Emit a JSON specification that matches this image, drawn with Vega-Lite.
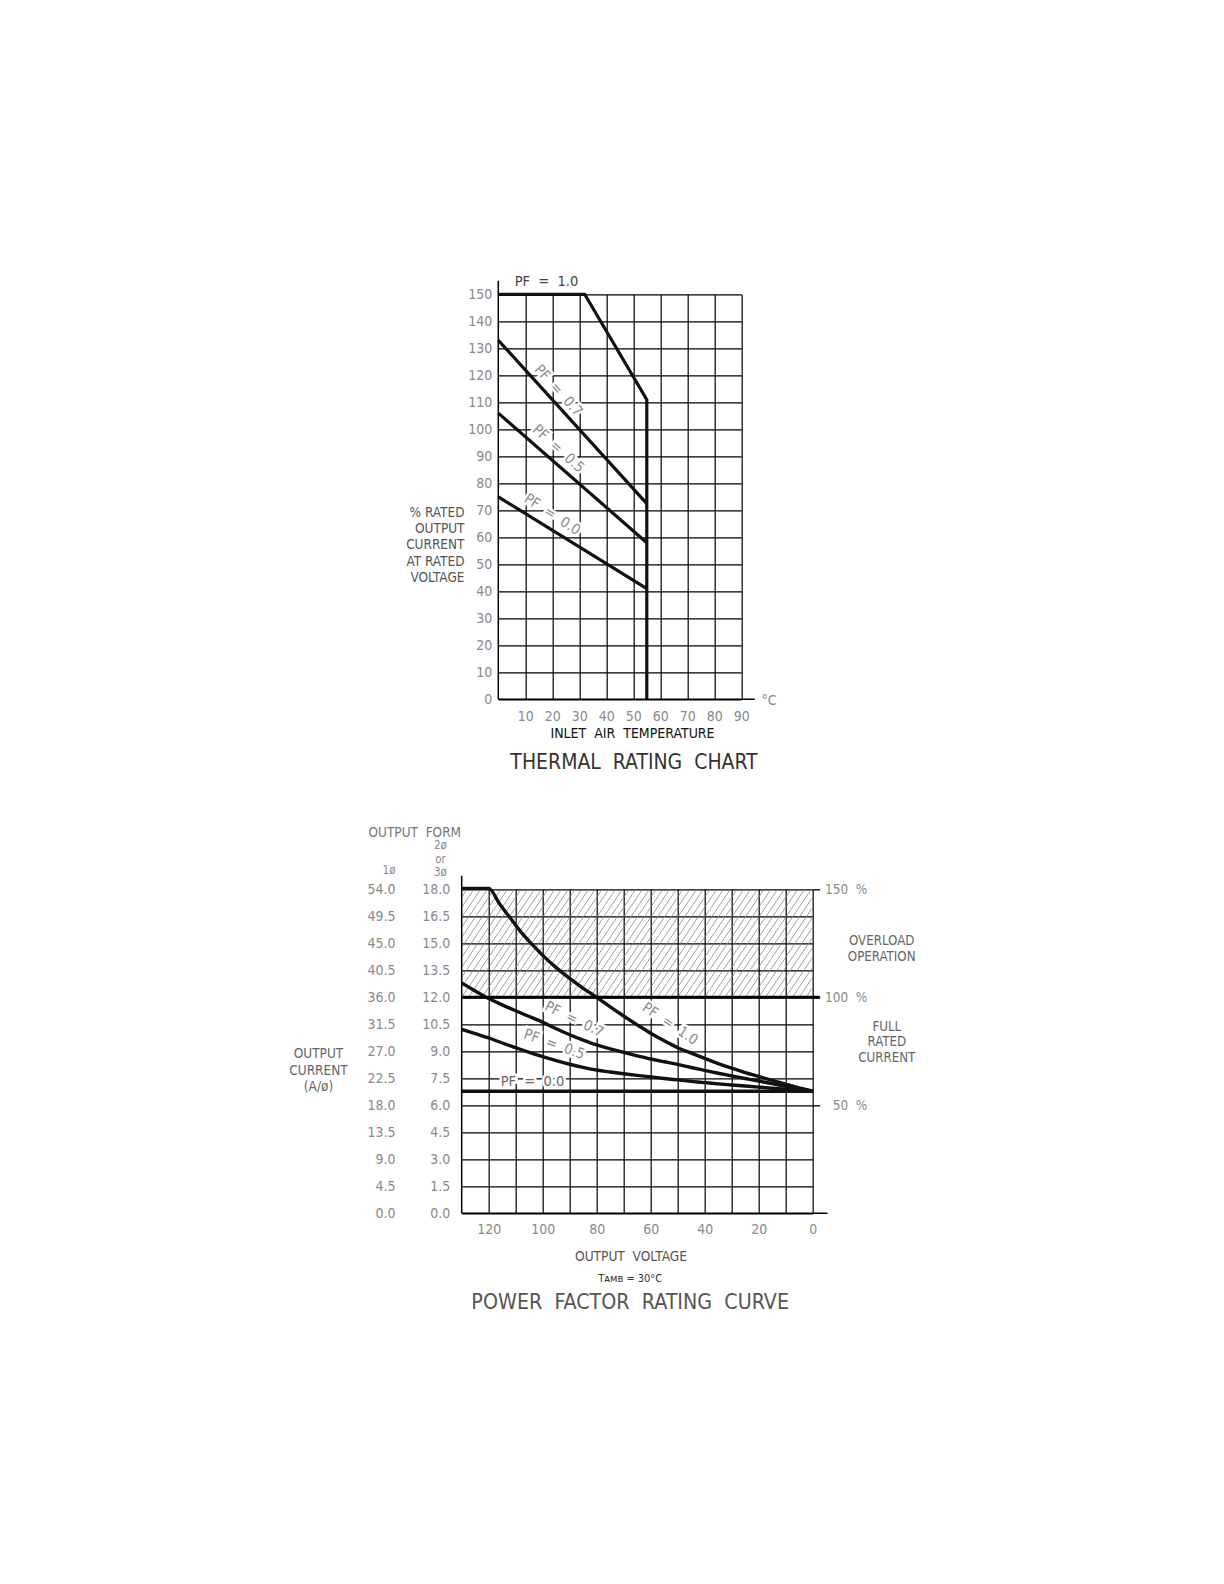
{
  "$schema": "https://vega.github.io/schema/vega-lite/v6.json",
  "padding": {"left": 288.7, "top": 273.3, "right": 5, "bottom": 5},
  "background": "white",
  "bounds": "flush",
  "spacing": 190,
  "config": {
    "view": {"stroke": null},
    "font": "Liberation Sans Narrow, DejaVu Sans Condensed, sans-serif",
    "axis": {
      "domain": false, "ticks": false, "labelFlush": false, "labelOverlap": false,
      "labelFontSize": 14, "labelColor": "#8a8a8a", "titleFontWeight": "normal",
      "titleFontSize": 14, "titleColor": "#555", "gridColor": "#000", "gridOpacity": 1, "gridWidth": 1.2
    },
    "title": {"fontWeight": "normal"}
  },
  "vconcat": [
    {
      "width": 280,
      "height": 405,
      "title": {"text": "THERMAL\u00a0 RATING\u00a0 CHART", "orient": "bottom", "anchor": "middle", "frame": "group", "fontSize": 21, "color": "#333", "offset": 11, "dx": 32.3},
      "resolve": {"axis": {"x": "independent", "y": "independent"}},
      "layer": [
        {
          "data": {"values": [{"lab": "PF\u00a0 =\u00a0 0.7", "t": 22.1, "p": 114.2}]},
          "encoding": {
            "x": {"field": "t", "type": "quantitative", "scale": {"domain": [0, 90], "range": [36.6, 279.6], "nice": false}, "axis": null},
            "y": {"field": "p", "type": "quantitative", "scale": {"domain": [0, 150], "nice": false}, "axis": null},
            "text": {"field": "lab"}
          },
          "layer": [
            {"mark": {"type": "text", "angle": 48, "fontSize": 14.5, "fill": "white", "stroke": "white", "strokeWidth": 5}},
            {"mark": {"type": "text", "angle": 48, "fontSize": 14.5, "fill": "#8a8a8a"}}
          ]
        },
        {
          "data": {"values": [{"lab": "PF\u00a0 =\u00a0 0.5", "t": 22.1, "p": 92.7}]},
          "encoding": {
            "x": {"field": "t", "type": "quantitative", "scale": {"domain": [0, 90], "range": [36.6, 279.6], "nice": false}, "axis": null},
            "y": {"field": "p", "type": "quantitative", "scale": {"domain": [0, 150], "nice": false}, "axis": null},
            "text": {"field": "lab"}
          },
          "layer": [
            {"mark": {"type": "text", "angle": 42, "fontSize": 14.5, "fill": "white", "stroke": "white", "strokeWidth": 5}},
            {"mark": {"type": "text", "angle": 42, "fontSize": 14.5, "fill": "#8a8a8a"}}
          ]
        },
        {
          "data": {"values": [{"lab": "PF\u00a0 =\u00a0 0.0", "t": 19.9, "p": 68.3}]},
          "encoding": {
            "x": {"field": "t", "type": "quantitative", "scale": {"domain": [0, 90], "range": [36.6, 279.6], "nice": false}, "axis": null},
            "y": {"field": "p", "type": "quantitative", "scale": {"domain": [0, 150], "nice": false}, "axis": null},
            "text": {"field": "lab"}
          },
          "layer": [
            {"mark": {"type": "text", "angle": 33, "fontSize": 14.5, "fill": "white", "stroke": "white", "strokeWidth": 5}},
            {"mark": {"type": "text", "angle": 33, "fontSize": 14.5, "fill": "#8a8a8a"}}
          ]
        },
        {
          "data": {"values": [{"lab": "PF\u00a0 =\u00a0 1.0", "t": 17.85, "p": 154.6}]},
          "mark": {"type": "text", "fontSize": 14.5, "fill": "#444"},
          "encoding": {
            "x": {"field": "t", "type": "quantitative", "scale": {"domain": [0, 90], "range": [36.6, 279.6], "nice": false}, "axis": null},
            "y": {"field": "p", "type": "quantitative", "scale": {"domain": [0, 150], "nice": false}, "axis": null},
            "text": {"field": "lab"}
          }
        },
        {
          "data": {"values": [
            {"pf": "1.0", "i": 0, "t": 0, "p": 150},
            {"pf": "1.0", "i": 1, "t": 32, "p": 150},
            {"pf": "1.0", "i": 2, "t": 55, "p": 111},
            {"pf": "1.0", "i": 3, "t": 55, "p": 0},
            {"pf": "0.7", "i": 0, "t": 0, "p": 133},
            {"pf": "0.7", "i": 1, "t": 55, "p": 72.5},
            {"pf": "0.5", "i": 0, "t": 0, "p": 106},
            {"pf": "0.5", "i": 1, "t": 55, "p": 58},
            {"pf": "0.0", "i": 0, "t": 0, "p": 75},
            {"pf": "0.0", "i": 1, "t": 55, "p": 41}
          ]},
          "mark": {"type": "line", "strokeWidth": 3.2, "color": "#111"},
          "encoding": {
            "x": {
              "field": "t", "type": "quantitative",
              "scale": {"domain": [0, 90], "range": [36.6, 279.6], "nice": false},
              "axis": {
                "values": [10, 20, 30, 40, 50, 60, 70, 80, 90], "grid": true, "labelPadding": 10,
                "title": "INLET\u00a0 AIR\u00a0 TEMPERATURE", "titleX": 170.3, "titleY": 34.4,
                "titleAlign": "center", "titleBaseline": "middle", "titleColor": "#111", "titleFontSize": 14
              }
            },
            "y": {
              "field": "p", "type": "quantitative",
              "scale": {"domain": [0, 150], "nice": false},
              "axis": {
                "values": [0, 10, 20, 30, 40, 50, 60, 70, 80, 90, 100, 110, 120, 130, 140, 150],
                "grid": true, "offset": -36.6, "labelPadding": 6.5,
                "title": ["% RATED", "OUTPUT", "CURRENT", "AT RATED", "VOLTAGE"],
                "titleAngle": 0, "titleAlign": "right", "titleBaseline": "top",
                "titleX": -34.3, "titleY": 210.9, "titleLineHeight": 16.3, "titleFontSize": 13.5, "titleColor": "#555"
              }
            },
            "detail": {"field": "pf"},
            "order": {"field": "i"}
          }
        },
        {
          "data": {"values": [{}]},
          "mark": {"type": "rule", "strokeWidth": 1.5, "color": "#000"},
          "encoding": {
            "x": {"datum": 0, "type": "quantitative", "scale": {"domain": [0, 90], "range": [36.6, 279.6], "nice": false}, "axis": null},
            "y": {"datum": 0, "type": "quantitative", "scale": {"domain": [0, 150], "nice": false}, "axis": null},
            "y2": {"datum": 155}
          }
        },
        {
          "data": {"values": [{}]},
          "mark": {"type": "rule", "strokeWidth": 1.5, "color": "#000"},
          "encoding": {
            "x": {"datum": 0, "type": "quantitative", "scale": {"domain": [0, 90], "range": [36.6, 279.6], "nice": false}, "axis": null},
            "x2": {"datum": 95},
            "y": {"datum": 0, "type": "quantitative", "scale": {"domain": [0, 150], "nice": false}, "axis": null}
          }
        },
        {
          "data": {"values": [{"u": "°C"}]},
          "mark": {"type": "text", "align": "left", "baseline": "middle", "dy": 2, "fontSize": 14, "fill": "#8a8a8a"},
          "encoding": {
            "x": {"datum": 97.5, "type": "quantitative", "scale": {"domain": [0, 90], "range": [36.6, 279.6], "nice": false}, "axis": null},
            "y": {"datum": 0, "type": "quantitative", "scale": {"domain": [0, 150], "nice": false}, "axis": null},
            "text": {"field": "u"}
          }
        }
      ]
    },
    {
      "width": 351,
      "height": 324,
      "title": {
        "text": "T\u1d00\u1d0d\u0299 = 30°C", "subtitle": "POWER\u00a0 FACTOR\u00a0 RATING\u00a0 CURVE",
        "orient": "bottom", "anchor": "middle", "frame": "group", "fontSize": 11, "color": "#333",
        "subtitleFontSize": 21.3, "subtitleColor": "#555", "subtitlePadding": 8, "offset": 9, "dx": -7
      },
      "resolve": {"axis": {"x": "independent", "y": "independent"}},
      "layer": [
        {
          "data": {"values": [
            {"b": 0, "t": -27}, {"b": 2.5, "t": -24.5}, {"b": 5, "t": -22}, {"b": 7.5, "t": -19.5},
            {"b": 10, "t": -17}, {"b": 12.5, "t": -14.5}, {"b": 15, "t": -12}, {"b": 17.5, "t": -9.5},
            {"b": 20, "t": -7}, {"b": 22.5, "t": -4.5}, {"b": 25, "t": -2}, {"b": 27.5, "t": 0.5},
            {"b": 30, "t": 3}, {"b": 32.5, "t": 5.5}, {"b": 35, "t": 8}, {"b": 37.5, "t": 10.5},
            {"b": 40, "t": 13}, {"b": 42.5, "t": 15.5}, {"b": 45, "t": 18}, {"b": 47.5, "t": 20.5},
            {"b": 50, "t": 23}, {"b": 52.5, "t": 25.5}, {"b": 55, "t": 28}, {"b": 57.5, "t": 30.5},
            {"b": 60, "t": 33}, {"b": 62.5, "t": 35.5}, {"b": 65, "t": 38}, {"b": 67.5, "t": 40.5},
            {"b": 70, "t": 43}, {"b": 72.5, "t": 45.5}, {"b": 75, "t": 48}, {"b": 77.5, "t": 50.5},
            {"b": 80, "t": 53}, {"b": 82.5, "t": 55.5}, {"b": 85, "t": 58}, {"b": 87.5, "t": 60.5},
            {"b": 90, "t": 63}, {"b": 92.5, "t": 65.5}, {"b": 95, "t": 68}, {"b": 97.5, "t": 70.5},
            {"b": 100, "t": 73}, {"b": 102.5, "t": 75.5}, {"b": 105, "t": 78}, {"b": 107.5, "t": 80.5},
            {"b": 110, "t": 83}, {"b": 112.5, "t": 85.5}, {"b": 115, "t": 88}, {"b": 117.5, "t": 90.5},
            {"b": 120, "t": 93}, {"b": 122.5, "t": 95.5}, {"b": 125, "t": 98}, {"b": 127.5, "t": 100.5},
            {"b": 130, "t": 103}, {"b": 132.5, "t": 105.5}, {"b": 135, "t": 108}, {"b": 137.5, "t": 110.5},
            {"b": 140, "t": 113}, {"b": 142.5, "t": 115.5}, {"b": 145, "t": 118}, {"b": 147.5, "t": 120.5},
            {"b": 150, "t": 123}, {"b": 152.5, "t": 125.5}, {"b": 155, "t": 128}, {"b": 157.5, "t": 130.5}
          ]},
          "mark": {"type": "rule", "clip": true, "color": "#888", "strokeWidth": 0.8},
          "encoding": {
            "x": {"field": "b", "type": "quantitative", "scale": {"domain": [0, 130], "reverse": true, "nice": false}, "axis": null},
            "x2": {"field": "t"},
            "y": {"datum": 12, "type": "quantitative", "scale": {"domain": [0, 18], "nice": false}, "axis": null},
            "y2": {"datum": 18}
          }
        },
        {
          "data": {"values": [
            {"lab": "PF\u00a0 =\u00a0 1.0", "v": 52.9, "a": 10.5}
          ]},
          "encoding": {
            "x": {"field": "v", "type": "quantitative", "scale": {"domain": [0, 130], "reverse": true, "nice": false}, "axis": null},
            "y": {"field": "a", "type": "quantitative", "scale": {"domain": [0, 18], "nice": false}, "axis": null},
            "text": {"field": "lab"}
          },
          "layer": [
            {"mark": {"type": "text", "angle": 34, "fontSize": 14.5, "fill": "white", "stroke": "white", "strokeWidth": 5}},
            {"mark": {"type": "text", "angle": 34, "fontSize": 14.5, "fill": "#8a8a8a"}}
          ]
        },
        {
          "data": {"values": [
            {"lab": "PF\u00a0 =\u00a0 0.7", "v": 88.4, "a": 10.75}
          ]},
          "encoding": {
            "x": {"field": "v", "type": "quantitative", "scale": {"domain": [0, 130], "reverse": true, "nice": false}, "axis": null},
            "y": {"field": "a", "type": "quantitative", "scale": {"domain": [0, 18], "nice": false}, "axis": null},
            "text": {"field": "lab"}
          },
          "layer": [
            {"mark": {"type": "text", "angle": 26, "fontSize": 14.5, "fill": "white", "stroke": "white", "strokeWidth": 5}},
            {"mark": {"type": "text", "angle": 26, "fontSize": 14.5, "fill": "#8a8a8a"}}
          ]
        },
        {
          "data": {"values": [
            {"lab": "PF\u00a0 =\u00a0 0.5", "v": 95.8, "a": 9.36}
          ]},
          "encoding": {
            "x": {"field": "v", "type": "quantitative", "scale": {"domain": [0, 130], "reverse": true, "nice": false}, "axis": null},
            "y": {"field": "a", "type": "quantitative", "scale": {"domain": [0, 18], "nice": false}, "axis": null},
            "text": {"field": "lab"}
          },
          "layer": [
            {"mark": {"type": "text", "angle": 20, "fontSize": 14.5, "fill": "white", "stroke": "white", "strokeWidth": 5}},
            {"mark": {"type": "text", "angle": 20, "fontSize": 14.5, "fill": "#8a8a8a"}}
          ]
        },
        {
          "data": {"values": [
            {"lab": "PF\u00a0 =\u00a0 0.0", "v": 103.8, "a": 7.3}
          ]},
          "encoding": {
            "x": {"field": "v", "type": "quantitative", "scale": {"domain": [0, 130], "reverse": true, "nice": false}, "axis": null},
            "y": {"field": "a", "type": "quantitative", "scale": {"domain": [0, 18], "nice": false}, "axis": null},
            "text": {"field": "lab"}
          },
          "layer": [
            {"mark": {"type": "text", "fontSize": 14.5, "fill": "white", "stroke": "white", "strokeWidth": 5}},
            {"mark": {"type": "text", "fontSize": 14.5, "fill": "#666"}}
          ]
        },
        {
          "data": {"values": [
            {"pf": "1.0", "v": 130, "a": 18.05}, {"pf": "1.0", "v": 120, "a": 18.05}, {"pf": "1.0", "v": 116, "a": 17.2},
            {"pf": "1.0", "v": 112, "a": 16.4}, {"pf": "1.0", "v": 108, "a": 15.62}, {"pf": "1.0", "v": 104, "a": 14.95},
            {"pf": "1.0", "v": 100, "a": 14.33}, {"pf": "1.0", "v": 95, "a": 13.65}, {"pf": "1.0", "v": 90, "a": 13.05},
            {"pf": "1.0", "v": 85, "a": 12.5}, {"pf": "1.0", "v": 80, "a": 12.0}, {"pf": "1.0", "v": 75, "a": 11.47},
            {"pf": "1.0", "v": 70, "a": 10.96}, {"pf": "1.0", "v": 65, "a": 10.47}, {"pf": "1.0", "v": 60, "a": 10.0},
            {"pf": "1.0", "v": 55, "a": 9.58}, {"pf": "1.0", "v": 50, "a": 9.2}, {"pf": "1.0", "v": 45, "a": 8.9},
            {"pf": "1.0", "v": 40, "a": 8.61}, {"pf": "1.0", "v": 35, "a": 8.32}, {"pf": "1.0", "v": 30, "a": 8.06},
            {"pf": "1.0", "v": 25, "a": 7.82}, {"pf": "1.0", "v": 20, "a": 7.6}, {"pf": "1.0", "v": 15, "a": 7.38},
            {"pf": "1.0", "v": 10, "a": 7.17}, {"pf": "1.0", "v": 5, "a": 6.97}, {"pf": "1.0", "v": 0, "a": 6.78},
            {"pf": "0.7", "v": 130, "a": 12.8}, {"pf": "0.7", "v": 125, "a": 12.35}, {"pf": "0.7", "v": 120, "a": 11.93},
            {"pf": "0.7", "v": 115, "a": 11.58}, {"pf": "0.7", "v": 110, "a": 11.25}, {"pf": "0.7", "v": 105, "a": 10.93},
            {"pf": "0.7", "v": 100, "a": 10.62}, {"pf": "0.7", "v": 95, "a": 10.25}, {"pf": "0.7", "v": 90, "a": 9.92},
            {"pf": "0.7", "v": 85, "a": 9.62}, {"pf": "0.7", "v": 80, "a": 9.35}, {"pf": "0.7", "v": 75, "a": 9.14},
            {"pf": "0.7", "v": 70, "a": 8.94}, {"pf": "0.7", "v": 65, "a": 8.75}, {"pf": "0.7", "v": 60, "a": 8.57},
            {"pf": "0.7", "v": 55, "a": 8.42}, {"pf": "0.7", "v": 50, "a": 8.27}, {"pf": "0.7", "v": 45, "a": 8.1},
            {"pf": "0.7", "v": 40, "a": 7.94}, {"pf": "0.7", "v": 35, "a": 7.78}, {"pf": "0.7", "v": 30, "a": 7.63},
            {"pf": "0.7", "v": 25, "a": 7.49}, {"pf": "0.7", "v": 20, "a": 7.35}, {"pf": "0.7", "v": 15, "a": 7.2},
            {"pf": "0.7", "v": 10, "a": 7.05}, {"pf": "0.7", "v": 5, "a": 6.91}, {"pf": "0.7", "v": 0, "a": 6.78},
            {"pf": "0.5", "v": 130, "a": 10.22}, {"pf": "0.5", "v": 125, "a": 9.98}, {"pf": "0.5", "v": 120, "a": 9.74},
            {"pf": "0.5", "v": 115, "a": 9.46}, {"pf": "0.5", "v": 110, "a": 9.2}, {"pf": "0.5", "v": 105, "a": 8.94},
            {"pf": "0.5", "v": 100, "a": 8.7}, {"pf": "0.5", "v": 95, "a": 8.48}, {"pf": "0.5", "v": 90, "a": 8.28},
            {"pf": "0.5", "v": 85, "a": 8.11}, {"pf": "0.5", "v": 80, "a": 7.96}, {"pf": "0.5", "v": 75, "a": 7.85},
            {"pf": "0.5", "v": 70, "a": 7.75}, {"pf": "0.5", "v": 65, "a": 7.66}, {"pf": "0.5", "v": 60, "a": 7.58},
            {"pf": "0.5", "v": 55, "a": 7.49}, {"pf": "0.5", "v": 50, "a": 7.41}, {"pf": "0.5", "v": 45, "a": 7.33},
            {"pf": "0.5", "v": 40, "a": 7.26}, {"pf": "0.5", "v": 35, "a": 7.19}, {"pf": "0.5", "v": 30, "a": 7.13},
            {"pf": "0.5", "v": 25, "a": 7.07}, {"pf": "0.5", "v": 20, "a": 7.01}, {"pf": "0.5", "v": 15, "a": 6.95},
            {"pf": "0.5", "v": 10, "a": 6.89}, {"pf": "0.5", "v": 5, "a": 6.83}, {"pf": "0.5", "v": 0, "a": 6.78},
            {"pf": "0.0", "v": 130, "a": 6.78}, {"pf": "0.0", "v": 0, "a": 6.78}
          ]},
          "mark": {"type": "line", "interpolate": "monotone", "strokeWidth": 3.4, "color": "#111"},
          "encoding": {
            "x": {
              "field": "v", "type": "quantitative",
              "scale": {"domain": [0, 130], "reverse": true, "nice": false},
              "axis": {
                "values": [0, 10, 20, 30, 40, 50, 60, 70, 80, 90, 100, 110, 120],
                "labelExpr": "datum.value % 20 == 0 ? datum.label : ''",
                "grid": true, "labelPadding": 9,
                "title": "OUTPUT\u00a0 VOLTAGE", "titleX": 168.8, "titleY": 43.7,
                "titleAlign": "center", "titleBaseline": "middle", "titleColor": "#555", "titleFontSize": 13.6
              }
            },
            "y": {
              "field": "a", "type": "quantitative",
              "scale": {"domain": [0, 18], "nice": false},
              "axis": {
                "orient": "left",
                "values": [0, 1.5, 3, 4.5, 6, 7.5, 9, 10.5, 12, 13.5, 15, 16.5, 18],
                "format": ".1f", "grid": true, "labelPadding": 12,
                "title": ["2ø", "or", "3ø"], "titleAngle": 0, "titleAlign": "center", "titleBaseline": "top",
                "titleX": -21.7, "titleY": -49.5, "titleLineHeight": 13.3, "titleFontSize": 11.5, "titleColor": "#888"
              }
            },
            "detail": {"field": "pf"}
          }
        },
        {
          "data": {"values": [{}]},
          "mark": {"type": "rule", "strokeWidth": 3, "color": "#000"},
          "encoding": {
            "x": {"datum": 130, "type": "quantitative", "scale": {"domain": [0, 130], "reverse": true, "nice": false}, "axis": null},
            "x2": {"datum": -2.6},
            "y": {"datum": 12, "type": "quantitative", "scale": {"domain": [0, 18], "nice": false}, "axis": null}
          }
        },
        {
          "data": {"values": [{}]},
          "mark": {"type": "rule", "strokeWidth": 1.5, "color": "#000"},
          "encoding": {
            "x": {"datum": 130, "type": "quantitative", "scale": {"domain": [0, 130], "reverse": true, "nice": false}, "axis": null},
            "y": {"datum": 0, "type": "quantitative", "scale": {"domain": [0, 18], "nice": false}, "axis": null},
            "y2": {"datum": 18.75}
          }
        },
        {
          "data": {"values": [{}]},
          "mark": {"type": "rule", "strokeWidth": 1.5, "color": "#000"},
          "encoding": {
            "x": {"datum": 130, "type": "quantitative", "scale": {"domain": [0, 130], "reverse": true, "nice": false}, "axis": null},
            "x2": {"datum": -5.5},
            "y": {"datum": 0, "type": "quantitative", "scale": {"domain": [0, 18], "nice": false}, "axis": null}
          }
        },
        {
          "data": {"values": [{}]},
          "mark": {"type": "point", "opacity": 0},
          "encoding": {
            "x": {"datum": 130, "type": "quantitative", "scale": {"domain": [0, 130], "reverse": true, "nice": false}, "axis": null},
            "y": {
              "datum": 0, "type": "quantitative", "scale": {"domain": [0, 18], "nice": false},
              "axis": {
                "orient": "left", "offset": 60, "labelPadding": 6.7,
                "values": [0, 1.5, 3, 4.5, 6, 7.5, 9, 10.5, 12, 13.5, 15, 16.5, 18],
                "labelExpr": "format(datum.value * 3, '.1f')", "grid": false,
                "title": "1ø", "titleAngle": 0, "titleAlign": "right", "titleBaseline": "middle",
                "titleX": -6.7, "titleY": -19, "titleFontSize": 11.5, "titleColor": "#888"
              }
            }
          }
        },
        {
          "data": {"values": [{}]},
          "mark": {"type": "point", "opacity": 0},
          "encoding": {
            "x": {"datum": 130, "type": "quantitative", "scale": {"domain": [0, 130], "reverse": true, "nice": false}, "axis": null},
            "y": {
              "datum": 0, "type": "quantitative", "scale": {"domain": [0, 18], "nice": false},
              "axis": {
                "orient": "left", "labels": false, "grid": false, "values": [0],
                "title": ["OUTPUT", "CURRENT", "(A/ø)"], "titleAngle": 0, "titleAlign": "center", "titleBaseline": "top",
                "titleX": -143.7, "titleY": 157.2, "titleLineHeight": 16.7, "titleFontSize": 13.5, "titleColor": "#666"
              }
            }
          }
        },
        {
          "data": {"values": [{}]},
          "mark": {"type": "point", "opacity": 0},
          "encoding": {
            "x": {"datum": 130, "type": "quantitative", "scale": {"domain": [0, 130], "reverse": true, "nice": false}, "axis": null},
            "y": {
              "datum": 0, "type": "quantitative", "scale": {"domain": [0, 18], "nice": false},
              "axis": {
                "orient": "left", "labels": false, "grid": false, "values": [0],
                "title": "OUTPUT\u00a0 FORM", "titleAngle": 0, "titleAlign": "left", "titleBaseline": "middle",
                "titleX": -93.7, "titleY": -57, "titleFontSize": 13.5, "titleColor": "#777"
              }
            }
          }
        },
        {
          "data": {"values": [{}]},
          "mark": {"type": "point", "opacity": 0},
          "encoding": {
            "x": {"datum": 130, "type": "quantitative", "scale": {"domain": [0, 130], "reverse": true, "nice": false}, "axis": null},
            "y": {
              "datum": 0, "type": "quantitative", "scale": {"domain": [0, 18], "nice": false},
              "axis": {
                "orient": "right", "values": [6, 12, 18], "grid": false, "labelFontSize": 13.5,
                "ticks": true, "tickSize": 7, "tickWidth": 1.3, "tickColor": "#000",
                "labelAlign": "right", "labelPadding": 47.2,
                "labelExpr": "datum.value == 18 ? '150\u00a0 %' : datum.value == 12 ? '100\u00a0 %' : '50\u00a0 %'",
                "title": null
              }
            }
          }
        },
        {
          "data": {"values": [{}]},
          "mark": {"type": "point", "opacity": 0},
          "encoding": {
            "x": {"datum": 130, "type": "quantitative", "scale": {"domain": [0, 130], "reverse": true, "nice": false}, "axis": null},
            "y": {
              "datum": 0, "type": "quantitative", "scale": {"domain": [0, 18], "nice": false},
              "axis": {
                "orient": "right", "values": [15.13], "grid": false,
                "labelPadding": 68.5, "labelAlign": "center", "labelBaseline": "middle", "labelLineHeight": 15.8,
                "labelColor": "#666", "labelFontSize": 13.2,
                "labelExpr": "['OVERLOAD', 'OPERATION']",
                "title": null
              }
            }
          }
        },
        {
          "data": {"values": [{}]},
          "mark": {"type": "point", "opacity": 0},
          "encoding": {
            "x": {"datum": 130, "type": "quantitative", "scale": {"domain": [0, 130], "reverse": true, "nice": false}, "axis": null},
            "y": {
              "datum": 0, "type": "quantitative", "scale": {"domain": [0, 18], "nice": false},
              "axis": {
                "orient": "right", "values": [10.4], "grid": false,
                "labelPadding": 73.6, "labelAlign": "center", "labelBaseline": "middle", "labelLineHeight": 15.8,
                "labelColor": "#666", "labelFontSize": 13.2,
                "labelExpr": "['FULL', 'RATED', 'CURRENT']",
                "title": null
              }
            }
          }
        }
      ]
    }
  ]
}
